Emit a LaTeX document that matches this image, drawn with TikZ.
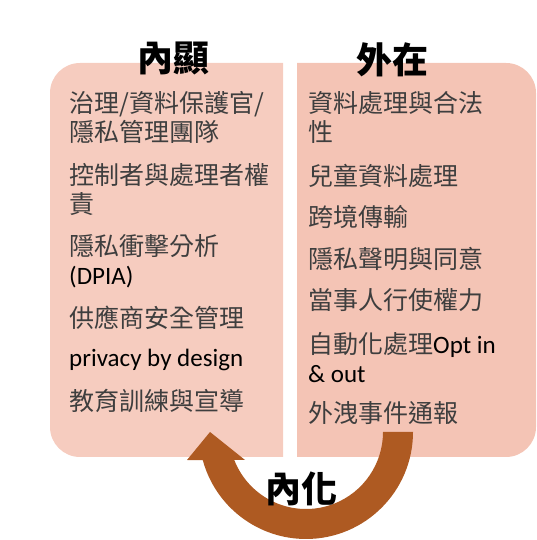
\documentclass[tikz,border=0pt]{standalone}
\usepackage{fontspec}
\setmainfont{Carlito}
\newfontfamily\cjk{Noto Sans CJK TC}
\usepackage{tikz}
\usetikzlibrary{calc}
\definecolor{leftpink}{RGB}{246,204,191}
\definecolor{rightpink}{RGB}{244,196,181}
\definecolor{arrowbrown}{RGB}{174,90,34}
\definecolor{itemgray}{RGB}{62,62,62}
\tikzset{
  coltitle/.style={inner sep=0pt,text=black,font=\cjk\bfseries\fontsize{36}{40}\selectfont},
  item/.style={anchor=base west,align=left,inner sep=0pt,text=itemgray,
               font=\cjk\fontsize{25}{29}\selectfont},
  loopfill/.style={fill=arrowbrown},
}

\begin{document}
\begin{tikzpicture}[x=1pt,y=1pt]
  \useasboundingbox (0,0) rectangle (537,540);
  % two halves
  \fill[leftpink] (283,83) -- (283,477) -- (80,477)
    arc[start angle=90,end angle=180,radius=30pt] -- (50,113)
    arc[start angle=180,end angle=270,radius=30pt] -- cycle;
  \fill[rightpink] (297,83) -- (297,477) -- (506,477)
    arc[start angle=90,end angle=0,radius=30pt] -- (536,113)
    arc[start angle=0,end angle=-90,radius=30pt] -- cycle;
  \node[coltitle] (inner) at (173.5,482) {內顯};
  \node[coltitle] (outer) at (392,480) {外在};
  % left column (base = last line)
  \node[item] (l1) at (69,398.5) {治理/資料保護官/\\隱私管理團隊};
  \node[item] (l2) at (69,326.5) {控制者與處理者權\\責};
  \node[item] (l3) at (69,255.5) {隱私衝擊分析\\{\rmfamily\color{black} (DPIA)}};
  \node[item] (l4) at (69,212.5) {供應商安全管理};
  \node[item] (l5) at (69,173) {\rmfamily\color{black} privacy by design};
  \node[item] (l6) at (69,129.5) {教育訓練與宣導};
  % right column
  \node[item] (r1) at (308,398.5) {資料處理與合法\\性};
  \node[item] (r2) at (308,354.5) {兒童資料處理};
  \node[item] (r3) at (308,313.5) {跨境傳輸};
  \node[item] (r4) at (308,271.5) {隱私聲明與同意};
  \node[item] (r5) at (308,230.5) {當事人行使權力};
  \node[item] (r6) at (308,157.5) {自動化處理{\rmfamily\color{black}Opt in}\\{\rmfamily\color{black}\& out}};
  \node[item] (r7) at (308,117.5) {外洩事件通報};
  % the loop back
  \coordinate (hub) at (306,108);
  \coordinate (tip) at (210,108);
  \fill[loopfill] ($(hub)+(0:107)$) arc[start angle=0,end angle=-164.8,radius=107pt]
    -- (187,80) -- (tip) -- (245,80) -- ($(hub)+(-158.7:77)$)
    arc[start angle=-158.7,end angle=0,radius=77pt] -- cycle;
  \node[coltitle] (intern) at (301.5,51.5) {內化};
\end{tikzpicture}
\end{document}
